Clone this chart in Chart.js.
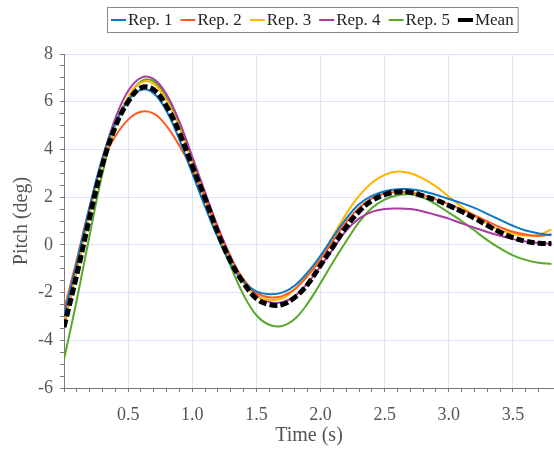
<!DOCTYPE html>
<html>
<head>
<meta charset="utf-8">
<script src="https://cdn.jsdelivr.net/npm/chart.js@4.4.1/dist/chart.umd.min.js"></script>
<style>
  html, body { margin: 0; padding: 0; background: #fff; }
  #wrap { width: 554px; height: 450px; }
</style>
</head>
<body>
<div id="wrap"><canvas id="pitch" width="554" height="450"></canvas></div>
<script>
// --- data (pitch in deg, every 0.1 s) ---
const time = [0.0, 0.1, 0.2, 0.3, 0.4, 0.5, 0.6, 0.7, 0.8, 0.9,
              1.0, 1.1, 1.2, 1.3, 1.4, 1.5, 1.6, 1.7, 1.8, 1.9,
              2.0, 2.1, 2.2, 2.3, 2.4, 2.5, 2.6, 2.7, 2.8, 2.9,
              3.0, 3.1, 3.2, 3.3, 3.4, 3.5, 3.6, 3.7, 3.8];

const rep1 = [-2.95, -0.75, 1.6, 3.65, 5.1, 6.05, 6.5, 6.35, 5.6, 4.4,
              3.0, 1.6, 0.3, -0.8, -1.55, -1.95, -2.07, -2.0, -1.7, -1.15,
              -0.45, 0.35, 1.1, 1.7, 2.05, 2.25, 2.33, 2.33, 2.25, 2.1,
              1.92, 1.75, 1.55, 1.3, 1.05, 0.8, 0.6, 0.48, 0.4];
const rep2 = [-2.75, -0.6, 1.6, 3.5, 4.55, 5.25, 5.58, 5.5, 4.98, 4.15,
              3.15, 1.95, 0.65, -0.55, -1.45, -2.0, -2.2, -2.15, -1.85, -1.3,
              -0.6, 0.2, 0.95, 1.55, 1.95, 2.15, 2.22, 2.2, 2.08, 1.9,
              1.7, 1.48, 1.25, 0.98, 0.74, 0.55, 0.43, 0.37, 0.45];
const rep3 = [-3.3, -1.05, 1.3, 3.45, 5.05, 6.2, 6.8, 6.75, 6.05, 4.9,
              3.4, 1.9, 0.5, -0.7, -1.6, -2.15, -2.3, -2.25, -1.85, -1.25,
              -0.5, 0.4, 1.3, 2.05, 2.6, 2.93, 3.07, 3.0, 2.78, 2.45,
              2.02, 1.6, 1.2, 0.87, 0.62, 0.47, 0.38, 0.42, 0.65];
const rep4 = [-3.4, -1.05, 1.35, 3.6, 5.3, 6.45, 7.0, 6.95, 6.3, 5.15,
              3.7, 2.2, 0.75, -0.5, -1.5, -2.1, -2.4, -2.4, -2.15, -1.6,
              -0.9, -0.15, 0.6, 1.1, 1.38, 1.5, 1.52, 1.5, 1.4, 1.25,
              1.1, 0.9, 0.72, 0.54, 0.38, 0.24, 0.14, 0.08, 0.05];
const rep5 = [-4.8, -2.3, 0.4, 3.0, 5.0, 6.1, 6.85, 6.85, 6.15, 5.0,
              3.5, 1.95, 0.45, -0.9, -2.1, -2.95, -3.35, -3.4, -3.1, -2.45,
              -1.6, -0.7, 0.15, 0.95, 1.55, 1.9, 2.08, 2.12, 1.98, 1.7,
              1.35, 1.0, 0.6, 0.2, -0.15, -0.44, -0.63, -0.75, -0.8];
const mean = [-3.45, -1.25, 1.15, 3.35, 4.95, 6.0, 6.58, 6.5, 5.8, 4.7,
              3.3, 1.95, 0.5, -0.7, -1.6, -2.25, -2.5, -2.5, -2.2, -1.65,
              -0.85, -0.05, 0.75, 1.4, 1.85, 2.1, 2.22, 2.2, 2.05, 1.88,
              1.65, 1.4, 1.12, 0.82, 0.53, 0.3, 0.15, 0.07, 0.05];

const seriesNames = ['Rep. 1', 'Rep. 2', 'Rep. 3', 'Rep. 4', 'Rep. 5', 'Mean'];
const seriesValues = [rep1, rep2, rep3, rep4, rep5, mean];

const xTickValues = [0.5, 1.0, 1.5, 2.0, 2.5, 3.0, 3.5];
const xTickLabels = ['0.5', '1.0', '1.5', '2.0', '2.5', '3.0', '3.5'];
const yTickValues = [-6, -4, -2, 0, 2, 4, 6, 8];
const yTickLabels = ['-6', '-4', '-2', '0', '2', '4', '6', '8'];

// styles
const lineColors = ['#0a78c6', '#ff5a1f', '#ffb400', '#a83d9f', '#5aa82a', '#000000'];
const SERIF = '"Liberation Serif", "Times New Roman", serif';
const GRID = '#dce3fa';
const AXIS = '#7a7a7a';

function labelFor(values, labels, v) {
  for (let i = 0; i < values.length; i++) {
    if (Math.abs(values[i] - v) < 1e-6) return labels[i];
  }
  return null;
}

const datasets = seriesNames.map(function(name, i) {
  const isMean = name === 'Mean';
  return {
    label: name,
    data: time.map((t, k) => ({ x: t, y: seriesValues[i][k] })),
    borderColor: lineColors[i],
    borderWidth: isMean ? 5 : 2,
    borderDash: isMean ? [8, 3] : [],
    pointRadius: 0,
    tension: 0.4,
    fill: false,
    order: isMean ? 0 : 1
  };
});

// boxed legend drawn above the plot
const boxedLegend = {
  id: 'boxedLegend',
  afterDraw(chart) {
    const ctx = chart.ctx;
    const sets = chart.data.datasets;
    const markLen = 15, markGap = 2, itemGap = 8, padX = 4, h = 25, top = 7;
    ctx.save();
    ctx.font = '17px ' + SERIF;
    ctx.textBaseline = 'middle';
    let w = padX * 2;
    sets.forEach(function(ds, i) {
      w += markLen + markGap + ctx.measureText(ds.label).width + (i ? itemGap : 0);
    });
    const left = Math.round(312 - w / 2);
    ctx.fillStyle = '#fff';
    ctx.fillRect(left, top, w, h);
    ctx.strokeStyle = '#8a8a8a';
    ctx.lineWidth = 1;
    ctx.strokeRect(left + 0.5, top + 0.5, w, h);
    let x = left + padX;
    const cy = top + h / 2 + 0.5;
    sets.forEach(function(ds) {
      ctx.setLineDash([]);
      ctx.strokeStyle = ds.borderColor;
      ctx.lineWidth = ds.label === 'Mean' ? 4 : 2;
      ctx.beginPath();
      ctx.moveTo(x, cy);
      ctx.lineTo(x + markLen, cy);
      ctx.stroke();
      x += markLen + markGap;
      ctx.fillStyle = '#222';
      ctx.fillText(ds.label, x, cy + 1);
      x += ctx.measureText(ds.label).width + itemGap;
    });
    ctx.restore();
  }
};

new Chart(document.getElementById('pitch'), {
  type: 'line',
  data: { datasets: datasets },
  options: {
    responsive: false,
    animation: false,
    layout: { padding: { top: 54, left: 0, right: 0, bottom: 0 } },
    plugins: {
      legend: { display: false },
      tooltip: { enabled: false }
    },
    scales: {
      x: {
        type: 'linear',
        min: 0,
        max: 3.82,
        afterFit: function(scale) {
          scale.height = 62;
          scale.paddingLeft = 0;
          scale.paddingRight = 0;
        },
        border: { color: AXIS, width: 1 },
        grid: {
          color: ctx => labelFor(xTickValues, xTickLabels, ctx.tick.value) ? GRID : 'rgba(0,0,0,0)',
          tickColor: AXIS,
          tickLength: 4,
          drawTicks: true
        },
        ticks: {
          stepSize: 0.1,
          autoSkip: false,
          maxRotation: 0,
          padding: 12,
          color: '#555',
          font: { family: SERIF, size: 18 },
          callback: v => labelFor(xTickValues, xTickLabels, v) || ''
        },
        title: {
          display: true,
          text: 'Time (s)',
          color: '#555',
          font: { family: SERIF, size: 20 },
          padding: { top: 0, bottom: 2 }
        }
      },
      y: {
        min: -6,
        max: 8,
        afterFit: function(scale) { scale.width = 64; },
        border: { color: AXIS, width: 1 },
        grid: {
          color: ctx => labelFor(yTickValues, yTickLabels, ctx.tick.value) ? GRID : 'rgba(0,0,0,0)',
          tickColor: AXIS,
          tickLength: 4
        },
        ticks: {
          stepSize: 0.5,
          autoSkip: false,
          padding: 7,
          color: '#555',
          font: { family: SERIF, size: 18 },
          callback: v => labelFor(yTickValues, yTickLabels, v) || ''
        },
        title: {
          display: true,
          text: 'Pitch (deg)',
          color: '#555',
          font: { family: SERIF, size: 20 },
          padding: { top: 10, bottom: 0 }
        }
      }
    }
  },
  plugins: [boxedLegend]
});
</script>
</body>
</html>
